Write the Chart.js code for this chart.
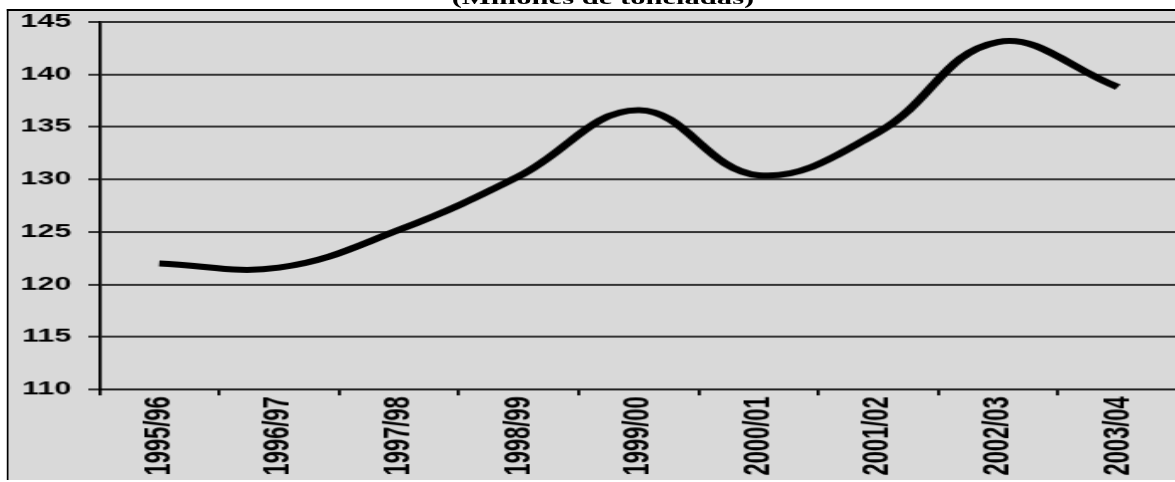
<!DOCTYPE html>
<html>
<head>
<meta charset="utf-8">
<script src="https://cdn.jsdelivr.net/npm/chart.js@4.4.1/dist/chart.umd.min.js"></script>
<style>
  html, body { margin: 0; padding: 0; background: #ffffff; overflow: hidden; width: 1175px; height: 482px; }
  #wrap { position: absolute; left: 0; top: 0; width: 710px; height: 482px; transform: scaleX(1.7); transform-origin: 0 0; }
  #title { position: absolute; left: 354.7px; top: -11.5px; transform: translateX(-50%); white-space: nowrap;
           font-family: "Liberation Serif", "Times New Roman", serif; font-weight: bold; font-size: 18px; line-height: 18px; color: #000; }
  #c { position: absolute; left: 4px; top: 9px; border-left: 1.3px solid #000; border-top: 2px solid #000; background: #d9d9d9; }
</style>
</head>
<body>
<div id="wrap">
  <div id="title">(Millones de toneladas)</div>
  <canvas id="c" width="695" height="471"></canvas>
</div>
<script>
const categories = ["1995/96", "1996/97", "1997/98", "1998/99", "1999/00", "2000/01", "2001/02", "2002/03", "2003/04"];
const production = [122.0, 121.6, 125.2, 130.3, 136.6, 130.4, 134.5, 143.1, 138.8];
const yTicks = [110, 115, 120, 125, 130, 135, 140, 145];

new Chart(document.getElementById('c'), {
  type: 'line',
  data: {
    labels: categories,
    datasets: [{
      data: production,
      borderColor: '#000000',
      borderWidth: 6,
      pointRadius: 0,
      pointHoverRadius: 0,
      tension: 0.4,
      fill: false,
      borderJoinStyle: 'round'
    }]
  },
  options: {
    responsive: false,
    animation: false,
    events: [],
    layout: { padding: { top: 11, right: 6.2, left: 0, bottom: 0 } },
    plugins: { legend: { display: false }, title: { display: false }, tooltip: { enabled: false } },
    scales: {
      x: {
        type: 'category',
        offset: true,
        afterFit: (s) => { s.height = 91; s.paddingLeft = 0; s.paddingRight = 0; },
        grid: { display: true, offset: true, drawOnChartArea: false, drawTicks: true, tickLength: 6, color: '#000', lineWidth: 1.8 },
        border: { display: true, color: '#222', width: 2 },
        ticks: {
          minRotation: 90, maxRotation: 90, autoSkip: false, padding: 1,
          color: '#000',
          font: { family: '"Liberation Sans", Arial, sans-serif', weight: 'bold', size: 22 }
        }
      },
      y: {
        min: yTicks[0],
        max: yTicks[yTicks.length - 1],
        afterFit: (s) => { s.width = 53.5; s.paddingTop = 0; s.paddingBottom = 0; },
        afterBuildTicks: (s) => { s.ticks = yTicks.map(v => ({ value: v })); },
        grid: { display: true, drawOnChartArea: true, drawTicks: true, tickLength: 6.5, color: '#333', lineWidth: 2 },
        border: { display: true, color: '#000', width: 1.8 },
        ticks: {
          padding: 10,
          color: '#000',
          font: { family: '"Liberation Sans", Arial, sans-serif', weight: 'bold', size: 18 },
          callback: (v) => String(v)
        }
      }
    }
  }
});
</script>
</body>
</html>
